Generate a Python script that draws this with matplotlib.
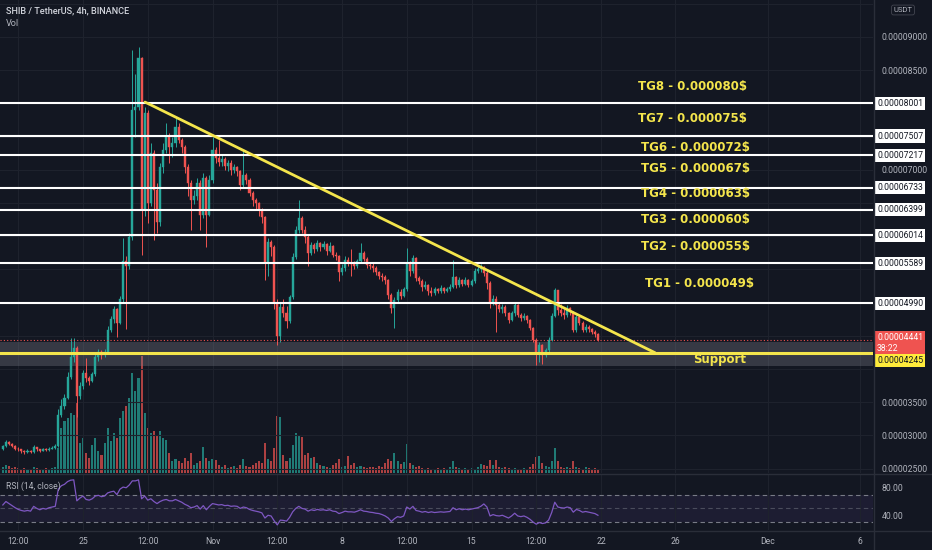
#!/usr/bin/env python3

import matplotlib
matplotlib.use("Agg")
import matplotlib.pyplot as plt
import matplotlib.transforms as mtransforms
from matplotlib.lines import Line2D
from datetime import datetime, timedelta


IMAGE_SIZE_PX = (932, 550)
IMAGE_DPI = 100

# prices are in units of 1e-5 USDT
PRICE_UNIT = 1e-5

FIRST_CANDLE = datetime(2021, 10, 20, 16)
CANDLE_STEP = timedelta(hours=4)
FIRST_OPEN = 2.80

CLOSE = [
    2.84, 2.90, 2.87, 2.84, 2.80, 2.79, 2.76, 2.75, 2.77, 2.75, 2.82, 2.79, 2.77, 2.79, 2.78, 2.80, 2.81, 2.84,
    3.30, 3.45, 3.57, 3.88, 4.18, 4.32, 3.60, 3.75, 3.94, 3.86, 3.82, 3.92, 4.18, 4.25, 4.21, 4.26, 4.59, 4.76,
    4.90, 4.70, 5.05, 5.62, 5.55, 5.99,
    7.90, 7.95, 8.68, 6.40, 7.86, 6.50, 7.25, 6.70, 6.21, 7.04, 7.30, 7.49, 7.35, 7.40, 7.64, 7.45, 7.34, 7.04,
    6.80, 6.55, 6.60, 6.80, 6.32, 6.88, 6.32, 6.85,
    7.30, 7.18, 7.12, 7.17, 7.06, 7.10, 7.00, 7.04, 6.98, 6.77, 6.92, 6.85, 6.65, 6.55, 6.50, 6.40, 6.29, 5.60,
    5.91, 5.84, 4.99, 4.50, 4.93, 4.85, 4.72, 5.09, 5.69, 6.10, 6.27, 6.10, 5.99, 5.75, 5.87, 5.80, 5.90, 5.83,
    5.88, 5.78, 5.85, 5.72, 5.70, 5.46, 5.52, 5.64, 5.60, 5.58, 5.55, 5.62, 5.75, 5.66, 5.57, 5.55, 5.52, 5.46,
    5.40, 5.38, 5.34, 5.11, 4.92, 5.04, 5.16, 5.10, 5.20, 5.60, 5.48, 5.67, 5.37, 5.33, 5.23, 5.27, 5.18, 5.14,
    5.20, 5.17, 5.22, 5.18, 5.20, 5.24, 5.39, 5.27, 5.34, 5.28, 5.34, 5.27, 5.32,
    5.47, 5.50, 5.53, 5.45, 5.30, 4.99, 5.06, 4.96, 4.90, 4.94, 4.84, 4.74, 4.84, 4.96, 4.81, 4.77, 4.80, 4.74,
    4.62, 4.44, 4.26, 4.36, 4.21, 4.28, 4.44, 4.80, 5.19, 4.89, 4.85, 4.81, 4.92, 4.86, 4.59, 4.78, 4.70, 4.59,
    4.64, 4.60, 4.56, 4.52, 4.441,
]

HIGH = [
    2.86, 2.93, 2.92, 2.88, 2.85, 2.82, 2.80, 2.78, 2.79, 2.78, 2.85, 2.83, 2.80, 2.81, 2.81, 2.82, 2.84, 2.87,
    3.40, 3.55, 3.62, 3.95, 4.47, 4.47, 4.35, 3.80, 3.98, 4.17, 3.90, 3.95, 4.22, 4.30, 4.28, 4.30, 4.65, 4.80,
    4.95, 4.92, 5.10, 5.97, 5.70, 6.05,
    8.80, 8.45, 8.85, 8.70, 7.95, 7.90, 7.40, 7.30, 6.80, 7.10, 7.40, 7.70, 7.55, 7.50, 7.78, 7.70, 7.48, 7.38,
    7.08, 6.85, 6.70, 6.88, 6.85, 6.95, 6.90, 6.92,
    7.50, 7.35, 7.45, 7.22, 7.20, 7.15, 7.14, 7.08, 7.06, 7.00, 7.30, 6.95, 6.88, 6.68, 6.58, 6.52, 6.42, 6.30,
    5.98, 5.95, 5.86, 5.05, 5.00, 5.05, 4.95, 5.12, 5.75, 6.15, 6.55, 6.30, 6.15, 6.02, 5.92, 5.90, 5.95, 5.92,
    5.93, 5.90, 5.92, 5.86, 5.76, 5.72, 5.58, 5.70, 5.68, 5.80, 5.62, 5.66, 5.90, 5.78, 5.68, 5.60, 5.60, 5.55,
    5.48, 5.44, 5.42, 5.36, 5.14, 5.08, 5.20, 5.20, 5.24, 5.82, 5.62, 5.72, 5.68, 5.40, 5.36, 5.32, 5.28, 5.24,
    5.24, 5.22, 5.26, 5.24, 5.23, 5.28, 5.64, 5.40, 5.38, 5.36, 5.38, 5.36, 5.35,
    5.52, 5.55, 5.58, 5.55, 5.47, 5.32, 5.12, 5.10, 5.00, 4.98, 4.96, 4.86, 4.88, 4.99, 4.98, 4.84, 4.84, 4.82,
    4.76, 4.64, 4.46, 4.40, 4.38, 4.32, 4.48, 4.85, 5.22, 5.18, 4.98, 4.90, 4.96, 4.94, 4.88, 4.82, 4.80, 4.72,
    4.68, 4.66, 4.62, 4.58, 4.54,
]

LOW = [
    2.78, 2.83, 2.85, 2.82, 2.78, 2.76, 2.74, 2.72, 2.73, 2.73, 2.74, 2.77, 2.75, 2.76, 2.76, 2.77, 2.79, 2.80,
    2.83, 3.28, 3.40, 3.55, 3.85, 4.10, 3.28, 3.55, 3.70, 3.80, 3.76, 3.80, 3.90, 4.12, 4.15, 4.18, 4.22, 4.55,
    4.70, 4.48, 4.68, 5.00, 4.60, 5.50,
    5.95, 7.50, 7.90, 5.72, 6.30, 6.20, 6.45, 5.94, 6.05, 6.15, 6.95, 7.25, 7.10, 7.20, 7.35, 7.40, 7.25, 6.95,
    6.60, 6.10, 6.48, 6.55, 6.10, 6.28, 5.84, 6.30,
    6.80, 7.10, 7.05, 7.05, 7.00, 6.98, 6.92, 6.95, 6.90, 6.70, 6.72, 6.78, 6.60, 6.45, 6.40, 6.30, 6.20, 5.34,
    5.40, 5.70, 4.90, 4.36, 4.40, 4.78, 4.62, 4.70, 5.05, 5.65, 6.05, 6.05, 5.90, 5.55, 5.72, 5.75, 5.78, 5.78,
    5.80, 5.72, 5.76, 5.68, 5.64, 5.32, 5.42, 5.48, 5.55, 5.40, 5.50, 5.52, 5.60, 5.62, 5.52, 5.50, 5.46, 5.42,
    5.36, 5.33, 5.28, 5.06, 4.84, 4.62, 5.00, 5.05, 5.08, 5.18, 5.40, 5.45, 5.32, 5.28, 5.18, 5.20, 5.12, 5.10,
    5.12, 5.14, 5.15, 5.14, 5.16, 5.18, 5.22, 5.22, 5.24, 5.25, 5.26, 5.24, 5.25,
    5.30, 5.44, 5.46, 5.40, 5.20, 4.92, 4.96, 4.55, 4.86, 4.85, 4.80, 4.70, 4.72, 4.80, 4.78, 4.72, 4.74, 4.70,
    4.58, 4.40, 4.06, 4.10, 4.08, 4.18, 4.25, 4.42, 4.78, 4.82, 4.80, 4.76, 4.78, 4.82, 4.55, 4.56, 4.66, 4.55,
    4.56, 4.56, 4.52, 4.48, 4.42,
]

VOLUME = [
    6, 8, 7, 5, 6, 5, 4, 5, 4, 4, 6, 5, 4, 4, 5, 4, 5, 6,
    25, 45, 52, 55, 60, 58, 70, 30, 35, 20, 15, 28, 35, 22, 18, 30, 45, 32, 40, 35, 55, 62, 67, 75,
    100, 82, 95, 117, 60, 45, 40, 42, 38, 42, 35, 33, 20, 12, 14, 12, 10, 15, 12, 20, 8, 10, 12, 26, 15, 12,
    14, 13, 8, 6, 8, 5, 6, 7, 5, 8, 14, 7, 6, 8, 10, 12, 10, 30, 14, 12, 25, 57, 56, 18, 12, 15, 28, 40, 38, 36,
    18, 20, 15, 16, 10, 8,
    7, 6, 5, 8, 10, 14, 6, 7, 17, 8, 10, 6, 7, 6, 5, 6, 6, 5, 7, 6, 10, 14, 12, 20, 12, 9, 11, 29, 10, 8, 6, 7,
    5, 4, 5, 4,
    4, 5, 4, 5, 4, 6, 12, 6, 5, 4, 5, 4, 5, 4, 6, 9, 8, 7, 13, 8, 13, 6, 5, 6, 5, 4, 5, 4, 4, 5, 4, 6, 9, 16,
    17, 10,
    7, 6, 12, 25, 12, 6, 5, 6, 5, 12, 6, 5, 4, 6, 5, 4, 5, 4,
]

RSI = [
    55, 60, 57, 54, 51, 48.5, 47, 46, 47, 46, 53, 50, 48, 50, 49, 51, 52, 53,
    78, 83, 85, 89, 91, 91.5, 61, 65, 68, 63, 62, 64, 68, 69, 67, 68, 72.5, 74, 75, 70, 78, 81, 80, 84,
    90, 90, 91.5, 64, 68, 62, 64, 60, 57, 60, 62, 63, 61, 61, 63, 61, 59, 56, 54, 51, 52, 54, 49, 54, 48, 53,
    57, 56, 55, 55.5, 54, 54.5, 53, 53.5, 53, 50, 52, 51, 48.5, 47, 46, 45, 43.5, 36, 40, 39, 32, 26, 33, 32.5,
    31.5, 37, 45, 50, 53, 50, 49, 46, 48, 47, 48.5, 47.5,
    48, 47, 48, 46, 45.5, 42.5, 44, 46, 45, 45, 44.5, 46, 48, 46, 45.5, 44.5, 44, 43, 42.5, 41, 39, 36, 31, 35,
    38, 37, 39, 52, 49, 53, 47, 46, 44.5, 45.5, 44, 45,
    44, 44.5, 45, 44.5, 45, 45.5, 51, 48, 49.5, 48, 49, 48, 49, 50, 51, 53, 56.5, 52, 39, 41, 39.5, 39, 40, 38,
    36, 39, 43, 39, 38, 39, 37, 34, 30, 27, 29.5, 28,
    29, 33, 44, 59, 52, 51, 50.5, 52, 51, 44.5, 48.5, 47, 44.5, 45.5, 44.5, 43.5, 42.5, 40,
]

TARGET_PRICES = [8.001, 7.507, 7.217, 6.733, 6.399, 6.014, 5.589, 4.990]
TARGET_LABELS = [
    "TG8 - 0.000080$", "TG7 - 0.000075$", "TG6 - 0.000072$", "TG5 - 0.000067$",
    "TG4 - 0.000063$", "TG3 - 0.000060$", "TG2 - 0.000055$", "TG1 - 0.000049$",
]
SUPPORT_PRICE = 4.245
SUPPORT_ZONE = (4.045, 4.41)
LAST_PRICE = 4.441
TREND_TIMES = [datetime(2021, 10, 28, 8, 25), datetime(2021, 11, 24, 22, 5)]
TREND_PRICES = [8.02, 4.245]

DATE_TICKS = [
    datetime(2021, 10, 21, 12), datetime(2021, 10, 25), datetime(2021, 10, 28, 12),
    datetime(2021, 11, 1), datetime(2021, 11, 4, 12), datetime(2021, 11, 8),
    datetime(2021, 11, 11, 12), datetime(2021, 11, 15), datetime(2021, 11, 18, 12),
    datetime(2021, 11, 22), datetime(2021, 11, 26), datetime(2021, 12, 1), datetime(2021, 12, 6),
]
DATE_LABELS = ["12:00", "25", "12:00", "Nov", "12:00", "8", "12:00", "15", "12:00", "22", "26", "Dec", "6"]
PRICE_TICKS = [2.5, 3.0, 3.5, 4.0, 4.5, 5.0, 5.5, 6.0, 6.5, 7.0, 7.5, 8.0, 8.5, 9.0, 9.5]
# ticks whose labels TradingView hides behind the level boxes
HIDDEN_TICKS = [4.0, 4.5, 5.0, 5.5, 6.0, 6.5, 7.5, 8.0, 9.5]

BG = "#131722"
GRID = "#1e222d"
SEP = "#2a2e39"
TEXT = "#b2b5be"
GREEN = "#26a69a"
RED = "#ef5350"
YELLOW = "#f4e54c"
PURPLE = "#7e57c2"


def px_rect(x0, y0, x1, y1):
    w, h = IMAGE_SIZE_PX
    return [x0 / w, 1 - y1 / h, (x1 - x0) / w, (y1 - y0) / h]


def main():
    assert len(CLOSE) == len(HIGH) == len(LOW) == len(VOLUME) == len(RSI), (
        len(CLOSE), len(HIGH), len(LOW), len(VOLUME), len(RSI))

    plt.rcParams["font.family"] = ["Roboto", "DejaVu Sans"]
    w, h = IMAGE_SIZE_PX
    fig = plt.figure(figsize=(w / IMAGE_DPI, h / IMAGE_DPI), dpi=IMAGE_DPI, facecolor=BG)

    times = [FIRST_CANDLE + i * CANDLE_STEP for i in range(len(CLOSE))]
    opens = [FIRST_OPEN] + CLOSE[:-1]
    colors = [GREEN if c >= o else RED for o, c in zip(opens, CLOSE)]

    ax_vol = fig.add_axes(px_rect(0, 0, 873, 473))
    ax_vol.set_facecolor(BG)
    ax = ax_vol.twinx()
    ax.patch.set_visible(False)
    ax_rsi = fig.add_axes(px_rect(0, 474, 873, 530), sharex=ax_vol)
    ax_rsi.set_facecolor(BG)

    for a in (ax_vol, ax, ax_rsi):
        for s in a.spines.values():
            s.set_visible(False)

    ax_vol.set_xlim(datetime(2021, 10, 20, 12, 20), datetime(2021, 12, 6, 16, 48))

    # volume overlay
    ax_vol.bar(times, VOLUME, width=0.11, color=colors, alpha=0.7, linewidth=0)
    ax_vol.set_ylim(0, 4.05 * max(VOLUME))
    ax_vol.set_yticks([])
    ax_vol.set_xticks(DATE_TICKS)
    ax_vol.tick_params(axis="x", labelbottom=False, length=0)
    ax_vol.grid(axis="x", color=GRID, linewidth=0.8)

    # candles
    body_bottom = [min(o, c) for o, c in zip(opens, CLOSE)]
    body_height = [abs(c - o) for o, c in zip(opens, CLOSE)]
    ax.vlines(times, LOW, HIGH, colors=colors, linewidth=0.7, zorder=2)
    ax.bar(times, body_height, bottom=body_bottom, width=0.11, color=colors,
           edgecolor=colors, linewidth=0.3, zorder=2)

    ax.set_ylim(2.434, 9.557)
    ax.set_yticks(PRICE_TICKS)
    ax.set_yticklabels(["" if p in HIDDEN_TICKS else f"{p * PRICE_UNIT:.8f}" for p in PRICE_TICKS])
    ax.tick_params(axis="y", colors=TEXT, labelsize=6.2, length=0, pad=6)
    ax.set_axisbelow(True)
    ax.grid(axis="y", color=GRID, linewidth=0.8)

    # support zone and lines
    ax.axhspan(*SUPPORT_ZONE, color="#787b86", alpha=0.35, linewidth=0, zorder=1)
    ax.axhline(LAST_PRICE, color=RED, linestyle=(0, (1, 2)), linewidth=0.8, zorder=3)
    for p in TARGET_PRICES:
        ax.axhline(p, color="white", linewidth=1.5, zorder=4)
    ax.axhline(SUPPORT_PRICE, color=YELLOW, linewidth=2.2, zorder=5)
    ax.plot(TREND_TIMES, TREND_PRICES, color=YELLOW, linewidth=2.0, zorder=5,
            solid_capstyle="round")

    # target labels
    label_y = [8.247, 7.765, 7.343, 7.012, 6.636, 6.259, 5.852, 5.295]
    label_x = [datetime(2021, 11, 24, 0)] * 2 + [datetime(2021, 11, 24, 4)] * 5 + [datetime(2021, 11, 24, 9)]
    for lx, ly, txt in zip(label_x, label_y, TARGET_LABELS):
        ax.text(lx, ly, txt, color=YELLOW, fontsize=8.5, fontweight="bold",
                family="DejaVu Sans", ha="left", va="center", zorder=6)
    ax.text(datetime(2021, 11, 26, 23, 20), 4.136, "Support", color=YELLOW, fontsize=8.5,
            fontweight="bold", family="DejaVu Sans", ha="left", va="center", zorder=6)

    # price axis boxes
    trans = mtransforms.blended_transform_factory(ax.transAxes, ax.transData)
    box_x = 1 + 4 / 873
    for p in TARGET_PRICES:
        ax.text(box_x, p, f"{p * PRICE_UNIT:.8f}", transform=trans, ha="left", va="center",
                fontsize=6.2, color=BG, clip_on=False, zorder=10,
                bbox=dict(boxstyle="square,pad=0.25", fc="white", ec="none"))
    ax.text(box_x, 4.39, f"{LAST_PRICE * PRICE_UNIT:.8f}\n38:22", transform=trans, ha="left",
            va="center", fontsize=6.2, color="white", linespacing=1.2, clip_on=False, zorder=10,
            bbox=dict(boxstyle="square,pad=0.25", fc=RED, ec="none"))
    ax.text(box_x, 4.125, f"{SUPPORT_PRICE * PRICE_UNIT:.8f}", transform=trans, ha="left",
            va="center", fontsize=6.2, color=BG, clip_on=False, zorder=10,
            bbox=dict(boxstyle="square,pad=0.25", fc="#ffeb3b", ec="none"))

    # RSI pane
    ax_rsi.axhspan(30, 70, color=PURPLE, alpha=0.1, linewidth=0)
    for lvl, alpha in ((70, 1.0), (50, 0.5), (30, 1.0)):
        ax_rsi.axhline(lvl, color="#787b86", linestyle=(0, (4, 3)), linewidth=0.8, alpha=alpha)
    ax_rsi.plot(times, RSI, color=PURPLE, linewidth=0.9)
    ax_rsi.set_ylim(18.6, 100)
    ax_rsi.yaxis.tick_right()
    ax_rsi.set_yticks([40, 80])
    ax_rsi.set_yticklabels(["40.00", "80.00"])
    ax_rsi.tick_params(axis="y", colors=TEXT, labelsize=6.2, length=0, pad=6)
    ax_rsi.set_xticks(DATE_TICKS)
    ax_rsi.set_xticklabels(DATE_LABELS)
    ax_rsi.tick_params(axis="x", colors=TEXT, labelsize=6.2, length=0, pad=5)
    ax_rsi.grid(axis="x", color=GRID, linewidth=0.8)
    ax_rsi.text(6 / 873, 0.78, "RSI (14, close)", transform=ax_rsi.transAxes, color=TEXT,
                fontsize=6.2, ha="left", va="center")

    # pane separators
    for y in (473.5, 530.5):
        fig.add_artist(Line2D([0, 1], [1 - y / h] * 2, color=SEP, linewidth=1))
    fig.add_artist(Line2D([873.5 / w] * 2, [0, 1], color=SEP, linewidth=1))

    # header texts
    fig.text(6 / w, 1 - 11 / h, "SHIB / TetherUS, 4h, BINANCE", color="#d1d4dc",
             fontsize=6.6, fontweight="medium", ha="left", va="center")
    fig.text(6 / w, 1 - 23 / h, "Vol", color=TEXT, fontsize=6.6, ha="left", va="center")
    fig.text(903 / w, 1 - 10 / h, "USDT", color=TEXT, fontsize=5.5, ha="center", va="center",
             bbox=dict(boxstyle="round,pad=0.25", fc=BG, ec="#434651", lw=0.6))

    fig.savefig("out.png", dpi=IMAGE_DPI, facecolor=BG)


if __name__ == "__main__":
    main()
